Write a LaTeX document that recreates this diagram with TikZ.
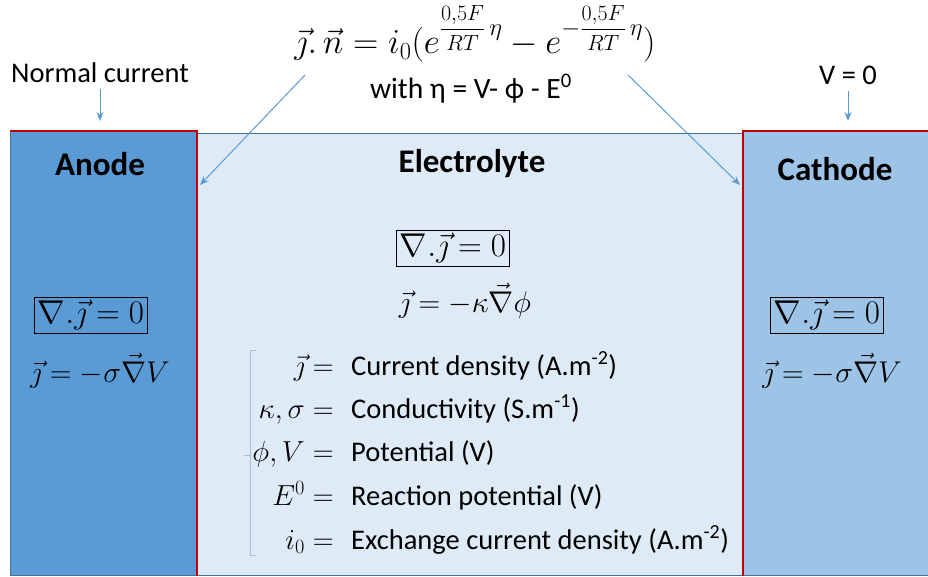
\RequirePackage{fix-cm}
\documentclass[tikz,border=0pt]{standalone}
\usepackage{fontspec}
\setmainfont{Carlito}
\usetikzlibrary{arrows.meta}
\definecolor{anodeblue}{HTML}{5B9BD5}
\definecolor{cathblue}{HTML}{9DC3E6}
\definecolor{elecblue}{HTML}{DEEBF7}
\definecolor{edgeblue}{HTML}{41719C}
\definecolor{redline}{HTML}{C00000}
\definecolor{arrowblue}{HTML}{5B9BD5}
\definecolor{bracecol}{HTML}{A9BDD3}
\newcommand{\bvfrac}{\mbox{\fontsize{22}{22}\selectfont$\displaystyle\frac{0{,}5F}{RT}$}}
\tikzset{
  lbl/.style={font=\fontsize{28.5}{34}\selectfont, inner sep=0pt},
  title/.style={font=\fontsize{33}{38}\selectfont\bfseries, inner sep=0pt},
  eq/.style={font=\fontsize{30}{36}\selectfont, inner sep=0pt},
  boxeq/.style={font=\fontsize{33}{39}\selectfont, draw=black, line width=0.9pt, inner sep=3pt},
  leg/.style={font=\fontsize{28.5}{34}\selectfont, inner sep=0pt},
  legm/.style={font=\fontsize{29}{35}\selectfont, inner sep=0pt},
  conn/.style={draw=arrowblue, line width=1pt, -{Stealth[length=9pt,width=7pt]}},
  redb/.style={draw=redline, line width=2.5pt},
}
\begin{document}
\begin{tikzpicture}[x=1pt,y=-1pt]
\useasboundingbox (0,0) rectangle (928,577);
\fill[white] (0,0) rectangle (928,577);
% regions
\node[draw=edgeblue, line width=0.8pt, fill=elecblue, minimum width=547pt, minimum height=442pt, anchor=north west, inner sep=0pt] (elec) at (196,133) {};
\node[draw=edgeblue, line width=0.8pt, fill=anodeblue, minimum width=186pt, minimum height=444pt, anchor=north west, inner sep=0pt] (anode) at (10,131) {};
\node[draw=edgeblue, line width=0.8pt, fill=cathblue, minimum width=190pt, minimum height=444pt, anchor=north west, inner sep=0pt] (cath) at (743,131) {};
\draw[redb] (anode.north west) -- (anode.north east) -- (anode.south east);
\draw[redb] ([xshift=5pt]cath.north east) -- (cath.north west) -- (cath.south west);
% titles
\node[title] (tanode) at (100,164) {Anode};
\node[title] (telec) at (472,164) {Electrolyte};
\node[title] (tcath) at (835,169) {Cathode};
% top labels
\node[lbl] (normal) at (100,73) {Normal current};
\node[lbl] (vzero) at (848,75) {V = 0};
\coordinate (na) at (100,121);
\coordinate (va) at (848,121);
\draw[conn] ([yshift=-6pt]normal.south) -- (na);
\draw[conn] ([yshift=-6pt]vzero.south) -- (va);
% top equation
\node[eq, font=\fontsize{35}{40}\selectfont, anchor=base] (bv) at (475,54) {$\vec{\jmath}.\,\vec{n} = i_0(e^{\bvfrac\,\eta} - e^{-\bvfrac\,\eta})$};
\node[lbl, font=\fontsize{29.5}{35}\selectfont] (with) at (471,89) {with η = V- ϕ - E\textsuperscript{0}};
\coordinate (ea) at (200,185);
\coordinate (ec) at (740,185);
\coordinate (sa) at (305,75);
\coordinate (sc) at (628,75);
\draw[conn] (sa) -- (ea);
\draw[conn] (sc) -- (ec);
% anode equations
\node[boxeq] (adiv) at (91,315) {$\nabla.\vec{\jmath} = 0$};
\node[eq] (aj) at (100,371) {$\vec{\jmath} = -\sigma\vec{\nabla}V$};
% electrolyte equations
\node[boxeq] (ediv) at (453,248) {$\nabla.\vec{\jmath} = 0$};
\node[eq] (ej) at (465,301) {$\vec{\jmath} = -\kappa\vec{\nabla}\phi$};
% cathode equations
\node[boxeq] (cdiv) at (827,315) {$\nabla.\vec{\jmath} = 0$};
\node[eq] (cj) at (832,371) {$\vec{\jmath} = -\sigma\vec{\nabla}V$};
% legend brace
\draw[draw=bracecol, line width=1pt] (256,350) -- (250,350) -- (250,555) -- (256,555);
\draw[draw=bracecol, line width=1pt] (244,455) -- (250,455);
% legend rows
\node[legm, anchor=base east] (m1) at (334,375) {$\vec{\jmath} =$};
\node[leg, anchor=base west] (t1) at (351,375) {Current density (A.m\textsuperscript{-2})};
\node[legm, anchor=base east] (m2) at (334,418) {$\kappa,\sigma =$};
\node[leg, anchor=base west] (t2) at (351,418) {Conductivity (S.m\textsuperscript{-1})};
\node[legm, anchor=base east] (m3) at (334,461) {$\phi,V =$};
\node[leg, anchor=base west] (t3) at (351,461) {Potential (V)};
\node[legm, anchor=base east] (m4) at (334,505) {$E^0 =$};
\node[leg, anchor=base west] (t4) at (351,505) {Reaction potential (V)};
\node[legm, anchor=base east] (m5) at (334,549) {$i_0 =$};
\node[leg, anchor=base west] (t5) at (351,549) {Exchange current density (A.m\textsuperscript{-2})};
\end{tikzpicture}
\end{document}
